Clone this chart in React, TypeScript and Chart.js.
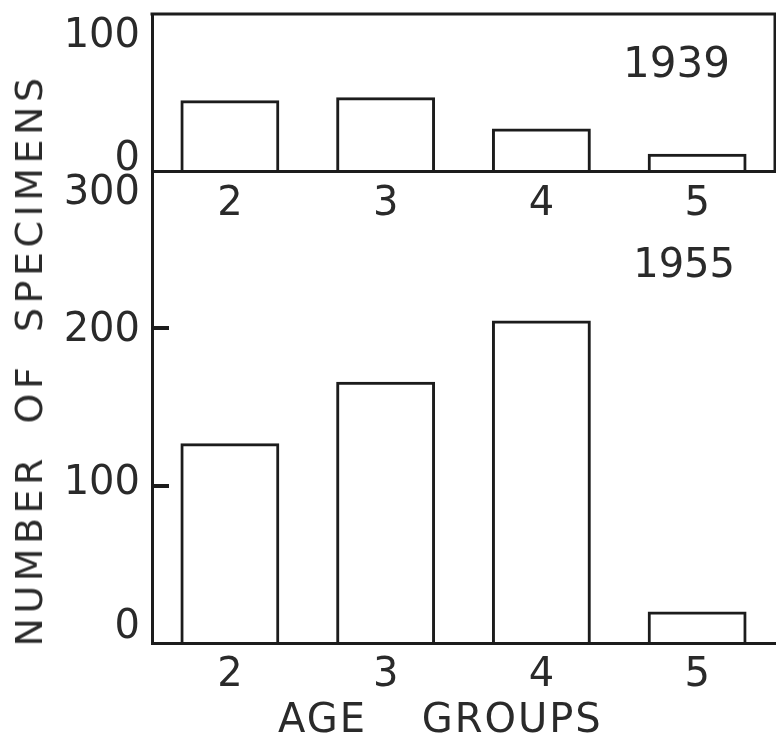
import React, { useEffect, useRef } from "react";
import { Chart, registerables } from "chart.js";

Chart.register(...registerables);

// ---- data ----
const AGE_GROUPS = ["2", "3", "4", "5"];
const COUNTS_1939 = [45, 47, 27, 11];
const COUNTS_1955 = [127, 166, 205, 20];
const Y_TICKS_1939 = [0, 100];
const Y_TICKS_1955 = [0, 100, 200, 300];
const INNER_TICKS_1955 = [100, 200];
const PANEL_1939 = "1939";
const PANEL_1955 = "1955";
const Y_TITLE = "NUMBER OF SPECIMENS";
const X_TITLE = "AGE GROUPS";

// ---- styling ----
const W = 776;
const H = 733;
const INK = "#1c1c1c";
const TEXT = "#2a2a2a";
const FONT = "'DejaVu Sans', sans-serif";
const TICK_SIZE = 40;

function yLabelPlugin(offsets: Record<number, number>, inner: number[]) {
  return {
    id: "yLabels",
    afterDraw(chart: any) {
      const s = chart.scales.y;
      const ctx = chart.ctx;
      const a = chart.chartArea;
      ctx.save();
      ctx.font = `${TICK_SIZE}px ${FONT}`;
      ctx.fillStyle = TEXT;
      ctx.textAlign = "right";
      ctx.textBaseline = "middle";
      s.ticks.forEach((t: any) => {
        const off = offsets[t.value] || 0;
        ctx.fillText(String(t.value), a.left - 12, s.getPixelForValue(t.value) + off);
      });
      ctx.restore();
      ctx.save();
      ctx.fillStyle = INK;
      inner.forEach((v) => {
        const y = Math.round(s.getPixelForValue(v));
        ctx.fillRect(a.left - 1, y - 2, 18, 4);
      });
      ctx.restore();
    },
  };
}

function panelLabelPlugin(text: string, size: number, dx: number, dy: number) {
  return {
    id: "panelLabel",
    afterDraw(chart: any) {
      const ctx = chart.ctx;
      const a = chart.chartArea;
      ctx.save();
      ctx.font = `${size}px ${FONT}`;
      ctx.fillStyle = TEXT;
      ctx.textAlign = "right";
      ctx.textBaseline = "middle";
      ctx.fillText(text, a.right - dx, a.top + dy);
      ctx.restore();
    },
  };
}

function framePlugin(enabled: boolean) {
  return {
    id: "frame",
    afterDraw(chart: any) {
      if (!enabled) return;
      const ctx = chart.ctx;
      const a = chart.chartArea;
      ctx.save();
      ctx.strokeStyle = INK;
      ctx.lineWidth = 3;
      ctx.lineCap = "square";
      ctx.beginPath();
      ctx.moveTo(a.left, a.top);
      ctx.lineTo(a.right, a.top);
      ctx.lineTo(a.right, a.bottom);
      ctx.stroke();
      ctx.restore();
    },
  };
}

function makeConfig(
  values: number[],
  yTicks: number[],
  yMax: number,
  padTop: number,
  xHeight: number,
  xPad: number,
  plugins: any[]
): any {
  return {
    type: "bar",
    data: {
      labels: AGE_GROUPS,
      datasets: [
        {
          data: values,
          backgroundColor: "rgba(0,0,0,0)",
          borderColor: INK,
          borderWidth: 3,
          borderSkipped: "start",
          categoryPercentage: 1,
          barPercentage: 0.635,
        },
      ],
    },
    options: {
      responsive: false,
      animation: false,
      events: [],
      layout: { padding: { top: padTop, left: 0, right: 1, bottom: 0 } },
      plugins: {
        legend: { display: false },
        tooltip: { enabled: false },
        title: { display: false },
      },
      scales: {
        x: {
          grid: { display: false, drawTicks: false },
          border: { display: true, color: INK, width: 3 },
          ticks: {
            color: TEXT,
            padding: xPad,
            font: { family: FONT, size: TICK_SIZE },
            maxRotation: 0,
          },
          afterFit: (s: any) => {
            s.height = xHeight;
          },
        },
        y: {
          min: 0,
          max: yMax,
          afterBuildTicks: (s: any) => {
            s.ticks = yTicks.map((v) => ({ value: v }));
          },
          ticks: { display: false },
          grid: { display: false, drawTicks: false },
          border: { display: true, color: INK, width: 3 },
          afterFit: (s: any) => {
            s.width = 152;
          },
        },
      },
    },
    plugins,
  };
}

export default function App() {
  const topRef = useRef<HTMLCanvasElement | null>(null);
  const botRef = useRef<HTMLCanvasElement | null>(null);

  useEffect(() => {
    const top = new Chart(
      topRef.current as HTMLCanvasElement,
      makeConfig(COUNTS_1939, Y_TICKS_1939, 100, 14, H - 171, 10, [
        yLabelPlugin({ 0: -11, 100: 23 }, []),
        panelLabelPlugin(PANEL_1939, 42, 45, 52),
        framePlugin(true),
      ])
    );
    const bottom = new Chart(
      botRef.current as HTMLCanvasElement,
      makeConfig(COUNTS_1955, Y_TICKS_1955, 300, 171, H - 643, 9, [
        yLabelPlugin({ 0: -15, 300: 23, 200: 2, 100: -2 }, INNER_TICKS_1955),
        panelLabelPlugin(PANEL_1955, 40, 40, 96),
        framePlugin(false),
      ])
    );
    return () => {
      top.destroy();
      bottom.destroy();
    };
  }, []);

  const canvasStyle: React.CSSProperties = {
    position: "absolute",
    left: 0,
    top: 0,
    width: W,
    height: H,
  };

  return (
    <div
      style={{
        position: "absolute",
        left: 0,
        top: 0,
        width: W,
        height: H,
        overflow: "hidden",
        background: "#ffffff",
      }}
    >
      <canvas ref={topRef} width={W} height={H} style={canvasStyle} />
      <canvas ref={botRef} width={W} height={H} style={canvasStyle} />
      <div
        style={{
          position: "absolute",
          left: 29,
          top: 360,
          transform: "translate(-50%, -50%) rotate(-90deg)",
          whiteSpace: "nowrap",
          fontFamily: FONT,
          fontSize: 38,
          lineHeight: "38px",
          letterSpacing: "4.5px",
          wordSpacing: "14px",
          color: TEXT,
        }}
      >
        {Y_TITLE}
      </div>
      <div
        style={{
          position: "absolute",
          left: 278,
          top: 698,
          whiteSpace: "nowrap",
          fontFamily: FONT,
          fontSize: 40,
          lineHeight: "40px",
          letterSpacing: "2px",
          wordSpacing: "40px",
          color: TEXT,
        }}
      >
        {X_TITLE}
      </div>
    </div>
  );
}
